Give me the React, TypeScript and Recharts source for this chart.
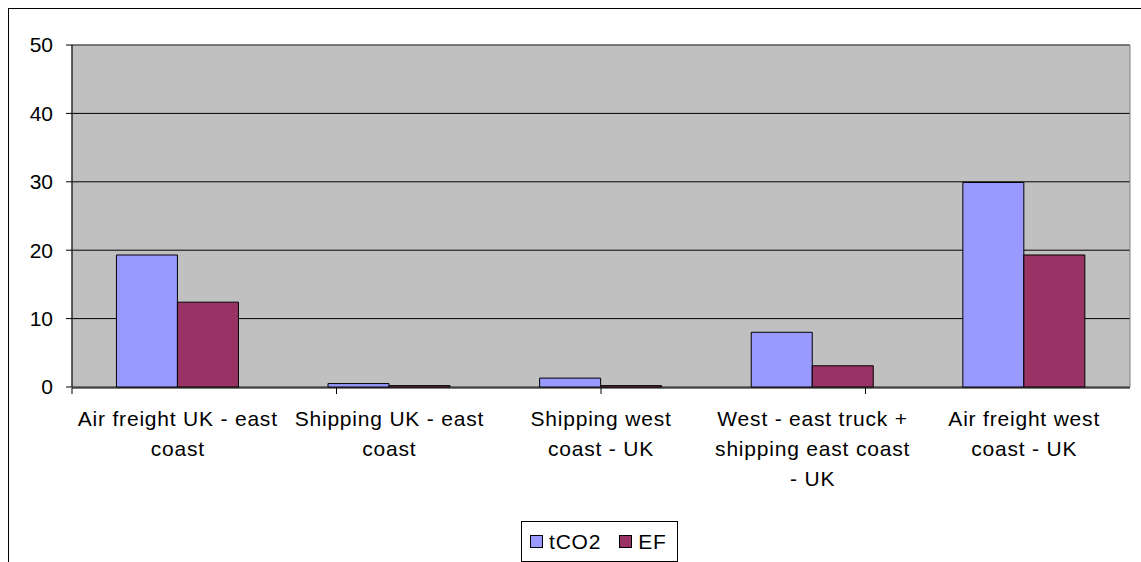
import React from "react";
import { BarChart, Bar, XAxis, YAxis, CartesianGrid, Legend, ReferenceArea } from "recharts";

// Emission comparison per transport route
const categories = [
  "Air freight UK - east coast",
  "Shipping UK - east coast",
  "Shipping west coast - UK",
  "West - east truck + shipping east coast - UK",
  "Air freight west coast - UK",
];
const tco2Values = [19.3, 0.5, 1.3, 8.0, 29.9];
const efValues = [12.4, 0.2, 0.2, 3.1, 19.3];
const seriesOrder = ["tCO2", "EF"];

// Wrapped category labels, one array of lines per category
const categoryTickLines = [
  ["Air freight UK - east", "coast"],
  ["Shipping UK - east", "coast"],
  ["Shipping west", "coast - UK"],
  ["West - east truck +", "shipping east coast", "- UK"],
  ["Air freight west", "coast - UK"],
];
const yTicks = [0, 10, 20, 30, 40, 50];
const boundaryTicks = [0, 1, 2, 3, 4, 5];

const data = categories.map((name, i) => ({
  name,
  tCO2: tco2Values[i],
  EF: efValues[i],
}));

const FONT = "'Liberation Sans', Arial, sans-serif";
const FONT_SIZE = 21;
const SPACING = 0.8;

const CategoryTick = (props: any) => {
  const { x, y, payload, index } = props;
  const idx = typeof payload?.index === "number" ? payload.index : index;
  const lines = categoryTickLines[idx] || [String(payload.value)];
  return (
    <text
      x={x}
      y={y}
      textAnchor="middle"
      fill="#000"
      fontFamily={FONT}
      fontSize={FONT_SIZE}
      letterSpacing={SPACING}
    >
      {lines.map((line: string, i: number) => (
        <tspan key={i} x={x} y={y + 39 + i * 30}>
          {line}
        </tspan>
      ))}
    </text>
  );
};

const NoTick = () => <g />;

const LegendBox = (props: any) => {
  const payload = [...(props.payload || [])].sort(
    (a: any, b: any) => seriesOrder.indexOf(a.value) - seriesOrder.indexOf(b.value)
  );
  return (
    <div
      style={{
        boxSizing: "border-box",
        width: 157,
        height: 41,
        border: "1px solid #000",
        background: "#fff",
        display: "flex",
        alignItems: "center",
        paddingLeft: 8,
        fontFamily: FONT,
        fontSize: FONT_SIZE,
        letterSpacing: SPACING,
        lineHeight: 1,
        color: "#000",
      }}
    >
      {payload.map((p: any, i: number) => (
        <span
          key={p.value}
          style={{ display: "flex", alignItems: "center", marginRight: i === 0 ? 18 : 0 }}
        >
          <span
            style={{
              display: "inline-block",
              boxSizing: "border-box",
              width: 13,
              height: 13,
              border: "1px solid #000",
              background: p.color,
              marginRight: 6,
            }}
          />
          <span>{p.value}</span>
        </span>
      ))}
    </div>
  );
};

export default function App() {
  return (
    <div style={{ position: "fixed", left: 0, top: 0, width: 1141, height: 562, overflow: "hidden", background: "#fff" }}>
      <div
        style={{
          position: "absolute",
          left: 8,
          top: 8,
          width: 1133,
          height: 554,
          boxSizing: "border-box",
          borderLeft: "1px solid #000",
          borderTop: "1px solid #000",
        }}
      />
      <div style={{ position: "absolute", left: 9, top: 9 }}>
        <BarChart
          width={1132}
          height={553}
          data={data}
          margin={{ top: 36, right: 11, left: 0, bottom: 173 }}
          barCategoryGap="21%"
          barGap={0}
        >
          <CartesianGrid
            xAxisId="cat"
            vertical={false}
            fill="#C0C0C0"
            fillOpacity={1}
            stroke="#000"
            strokeOpacity={1}
          />
          <ReferenceArea xAxisId="cat" y1={0} y2={50} fill="none" stroke="#808080" strokeWidth={1} />
          <XAxis
            xAxisId="edges"
            type="number"
            domain={[0, 5]}
            ticks={boundaryTicks}
            height={1}
            tick={<NoTick />}
            tickSize={6}
            tickLine={{ stroke: "#000" }}
            axisLine={{ stroke: "#000" }}
          />
          <XAxis
            xAxisId="cat"
            dataKey="name"
            height={1}
            tickLine={false}
            axisLine={false}
            tickSize={0}
            tickMargin={0}
            interval={0}
            tick={<CategoryTick />}
          />
          <YAxis
            domain={[0, 50]}
            ticks={yTicks}
            width={63}
            tickSize={6}
            tickMargin={13}
            interval={0}
            axisLine={{ stroke: "#000" }}
            tickLine={{ stroke: "#000" }}
            tick={{ fill: "#000", fontFamily: FONT, fontSize: FONT_SIZE }}
          />
          <Bar xAxisId="cat" dataKey="tCO2" fill="#9999FF" stroke="#000" strokeWidth={1} isAnimationActive={false} />
          <Bar xAxisId="cat" dataKey="EF" fill="#993366" stroke="#000" strokeWidth={1} isAnimationActive={false} />
          <Legend
            layout="horizontal"
            verticalAlign="middle"
            align="center"
            wrapperStyle={{ left: 512, top: 512, width: 157, height: 41 }}
            content={<LegendBox />}
          />
        </BarChart>
      </div>
    </div>
  );
}
